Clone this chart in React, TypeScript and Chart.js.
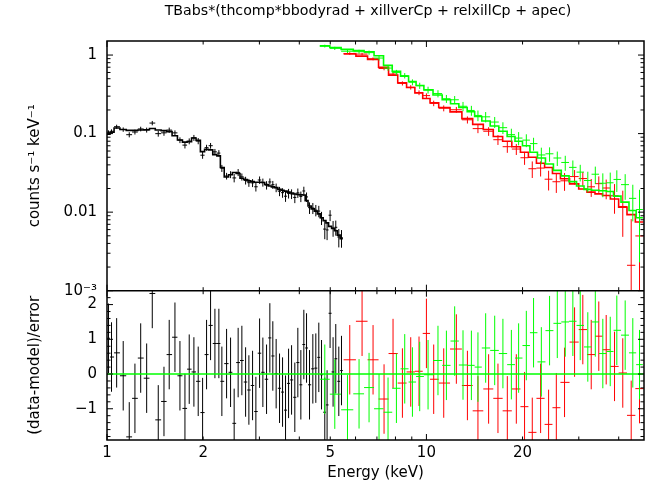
import React, { useEffect, useRef } from 'react';
import { Chart, registerables } from 'chart.js';

Chart.register(...registerables);

// ---------- text ----------
const plotTitle = 'TBabs*(thcomp*bbodyrad + xillverCp + relxillCp + apec)';
const xAxisTitle = 'Energy (keV)';
const topAxisTitle = 'counts s⁻¹ keV⁻¹';
const resAxisTitle = '(data-model)/error';

// ---------- ticks / ranges ----------
const xTickValues = [1, 2, 5, 10, 20];
const xTickLabels = ['1', '2', '5', '10', '20'];
const topTickValues = [0.001, 0.01, 0.1, 1];
const topTickLabels = ['10⁻³', '0.01', '0.1', '1'];
const resTickValues = [-1, 0, 1, 2];
const resTickLabels = ['−1', '0', '1', '2'];
const xRange = [1, 48];
const topRange = [0.001, 1.51];
const resRange = [-1.9, 2.4];

// ---------- black group (keV, counts/s/keV) ----------
const blackEnergy = [1.011, 1.033, 1.072, 1.124, 1.174, 1.223, 1.275, 1.331, 1.386, 1.447, 1.508, 1.566, 1.632, 1.692, 1.754, 1.809, 1.871, 1.930, 1.992, 2.050, 2.110, 2.177, 2.240, 2.289, 2.368, 2.437, 2.501, 2.574, 2.644, 2.716, 2.781, 2.856, 2.925, 3.004, 3.076, 3.159, 3.235, 3.305, 3.385, 3.469, 3.545, 3.622, 3.702, 3.783, 3.873, 3.958, 4.045, 4.133, 4.214, 4.306, 4.410, 4.506, 4.604, 4.695, 4.807, 4.887, 4.994, 5.103, 5.203, 5.318, 5.422];
const blackModel = [0.098, 0.104, 0.118, 0.113, 0.110, 0.110, 0.111, 0.112, 0.116, 0.111, 0.109, 0.106, 0.094, 0.083, 0.078, 0.079, 0.088, 0.082, 0.059, 0.063, 0.062, 0.054, 0.052, 0.037, 0.028, 0.030, 0.032, 0.031, 0.027, 0.026, 0.025, 0.0245, 0.024, 0.024, 0.0238, 0.0225, 0.0215, 0.021, 0.0205, 0.0195, 0.019, 0.0185, 0.018, 0.0175, 0.017, 0.0168, 0.0166, 0.0165, 0.014, 0.012, 0.011, 0.0103, 0.0095, 0.0085, 0.0078, 0.0073, 0.0066, 0.0062, 0.0058, 0.0051, 0.0046];
const blackRelErr = [0.06, 0.06, 0.062, 0.064, 0.066, 0.068, 0.07, 0.072, 0.075, 0.076, 0.078, 0.08, 0.082, 0.084, 0.086, 0.087, 0.088, 0.089, 0.09, 0.092, 0.094, 0.096, 0.098, 0.1, 0.1, 0.102, 0.104, 0.106, 0.108, 0.11, 0.11, 0.112, 0.114, 0.116, 0.118, 0.12, 0.122, 0.124, 0.126, 0.128, 0.13, 0.132, 0.135, 0.138, 0.14, 0.143, 0.146, 0.15, 0.155, 0.16, 0.165, 0.17, 0.18, 0.19, 0.2, 0.21, 0.22, 0.23, 0.24, 0.25, 0.26];
const blackResid = [1.03, 0.49, 0.61, -0.05, -1.81, -0.70, 0.46, -0.12, 2.32, -1.32, -0.79, 0.56, 1.06, -0.05, -0.99, 0.14, 0.06, -0.21, -1.11, 0.56, 1.40, 0.88, 0.88, -0.21, 0.30, 0.05, -1.42, 0.33, 0.39, -0.23, -0.46, -0.33, -1.08, 0.60, 0.05, -0.15, 1.04, 0.52, 0.01, -0.41, -0.52, -1.04, -0.27, -0.17, -0.67, 0.33, -0.31, 0.85, 0.75, -0.31, 0.15, 0.17, 0.48, -0.02, -1.10, -0.89, 1.75, 0.06, 0.44, -0.21, 0.10];

// ---------- red group ----------
const redEnergy = [5.755, 6.289, 6.807, 7.369, 7.862, 8.412, 8.931, 9.482, 10.0, 10.54, 11.33, 12.41, 13.44, 14.50, 15.66, 16.75, 17.92, 19.12, 20.29, 21.45, 22.78, 24.13, 25.51, 27.07, 29.10, 30.88, 32.81, 34.65, 36.55, 38.81, 41.19, 43.77, 46.47];
const redModel = [1.03, 0.97, 0.88, 0.70, 0.555, 0.443, 0.387, 0.33, 0.28, 0.246, 0.215, 0.189, 0.155, 0.131, 0.113, 0.092, 0.080, 0.068, 0.058, 0.050, 0.042, 0.037, 0.031, 0.0266, 0.0229, 0.0197, 0.018, 0.0171, 0.0163, 0.0147, 0.0116, 0.0093, 0.0075];
const redRelErr = [0.04, 0.04, 0.045, 0.05, 0.055, 0.06, 0.065, 0.07, 0.075, 0.08, 0.085, 0.09, 0.10, 0.11, 0.12, 0.13, 0.14, 0.15, 0.16, 0.17, 0.19, 0.2, 0.22, 0.24, 0.26, 0.28, 0.3, 0.32, 0.35, 0.45, 0.6, 0.65, 0.8];
const redResid = [0.41, 1.52, 0.41, -0.72, 0.59, -0.26, 0.06, 0.08, 1.17, -0.15, -0.26, 0.72, -0.33, -1.06, -0.43, -0.70, -1.06, -0.43, -0.94, -1.68, -0.70, -1.45, -0.97, -0.24, 0.92, 1.28, 0.56, 1.09, 0.70, 0.22, 0.03, -1.19, -0.42];

// ---------- green group ----------
const greenEnergy = [4.807, 5.166, 5.661, 6.154, 6.614, 7.107, 7.584, 8.056, 8.553, 9.041, 9.529, 10.12, 10.87, 11.55, 12.26, 13.02, 13.83, 14.50, 15.33, 16.36, 17.36, 18.45, 19.44, 20.55, 21.65, 22.90, 24.30, 25.69, 27.21, 28.74, 30.31, 32.01, 33.79, 35.67, 37.63, 39.46, 41.91, 44.28, 46.47];
const greenModel = [1.31, 1.25, 1.18, 1.14, 1.10, 0.98, 0.74, 0.62, 0.54, 0.46, 0.41, 0.36, 0.31, 0.27, 0.24, 0.215, 0.19, 0.165, 0.145, 0.125, 0.107, 0.092, 0.080, 0.070, 0.058, 0.049, 0.041, 0.034, 0.029, 0.0245, 0.0215, 0.0195, 0.019, 0.0187, 0.0183, 0.016, 0.0134, 0.0105, 0.0085];
const greenRelErr = [0.04, 0.045, 0.05, 0.055, 0.06, 0.065, 0.07, 0.075, 0.08, 0.085, 0.09, 0.1, 0.11, 0.12, 0.13, 0.14, 0.15, 0.16, 0.17, 0.18, 0.19, 0.2, 0.21, 0.22, 0.24, 0.26, 0.28, 0.3, 0.32, 0.34, 0.36, 0.38, 0.4, 0.42, 0.45, 0.5, 0.6, 0.7, 1.0];
const greenResid = [-0.15, -0.58, -1.03, -0.57, -0.39, -1.0, -1.10, -0.41, 0.15, -0.23, -0.07, -0.02, 0.39, 0.25, 0.95, 0.26, 0.25, 0.20, 0.75, 0.68, 0.59, 0.27, 0.46, 0.82, 1.19, 0.35, 1.25, 1.46, 1.50, 1.52, 1.40, 0.78, 1.50, 0.59, 0.65, 1.26, 1.12, 0.61, 0.27];

type Pt = { x: number; y: number | null };
const FLOOR = 1e-7;
const FONT = '"DejaVu Sans", Verdana, sans-serif';

function logEdges(E: number[]) {
  const n = E.length;
  const lo: number[] = [];
  const hi: number[] = [];
  for (let i = 0; i < n; i++) {
    lo.push(i > 0 ? Math.sqrt(E[i - 1] * E[i]) : E[0] * Math.sqrt(E[0] / E[1]));
    hi.push(i < n - 1 ? Math.sqrt(E[i] * E[i + 1]) : E[n - 1] * Math.sqrt(E[n - 1] / E[n - 2]));
  }
  return { lo, hi };
}

function groupDatasets(energy: number[], model: number[], relErr: number[], resid: number[], color: string, order: number) {
  const { lo, hi } = logEdges(energy);
  const step: Pt[] = [];
  const dataPts: Pt[] = [];
  const resPts: Pt[] = [];
  energy.forEach((e, i) => {
    const m = model[i];
    const err = m * relErr[i];
    const r = resid[i];
    const d = m + r * err;
    step.push({ x: lo[i], y: m }, { x: hi[i], y: m });
    dataPts.push(
      { x: lo[i], y: d }, { x: hi[i], y: d }, { x: e, y: null },
      { x: e, y: Math.max(d - err, FLOOR) }, { x: e, y: d + err }, { x: e, y: null }
    );
    resPts.push(
      { x: lo[i], y: r }, { x: hi[i], y: r }, { x: e, y: null },
      { x: e, y: r - 1 }, { x: e, y: r + 1 }, { x: e, y: null }
    );
  });
  const base = {
    type: 'line' as const,
    xAxisID: 'x',
    borderColor: color,
    backgroundColor: color,
    pointRadius: 0,
    pointHoverRadius: 0,
    pointHitRadius: 0,
    fill: false,
    spanGaps: false,
    tension: 0,
  };
  return [
    { ...base, data: step, yAxisID: 'yTop', borderWidth: 1.6, order: order },
    { ...base, data: dataPts, yAxisID: 'yTop', borderWidth: 1, order: order + 1 },
    { ...base, data: resPts, yAxisID: 'yRes', borderWidth: 1, order: order + 1 },
  ];
}

const panelClip = {
  id: 'panelClip',
  beforeDatasetDraw(chart: any, args: any) {
    const ys = chart.scales[args.meta.yAxisID];
    const xs = chart.scales.x;
    const ctx = chart.ctx;
    ctx.save();
    ctx.beginPath();
    ctx.rect(xs.left, ys.top, xs.right - xs.left, ys.bottom - ys.top);
    ctx.clip();
  },
  afterDatasetDraw(chart: any) {
    chart.ctx.restore();
  },
};

const framePlugin = {
  id: 'xspecFrame',
  afterDatasetsDraw(chart: any) {
    const ctx = chart.ctx;
    const xs = chart.scales.x;
    const yt = chart.scales.yTop;
    const yr = chart.scales.yRes;
    const L = xs.left;
    const R = xs.right;
    const line = (x1: number, y1: number, x2: number, y2: number) => {
      ctx.beginPath();
      ctx.moveTo(x1, y1);
      ctx.lineTo(x2, y2);
      ctx.stroke();
    };
    ctx.save();
    ctx.strokeStyle = '#000';
    ctx.lineWidth = 1;
    const xt: [number, boolean][] = [];
    for (const d of [1, 10]) for (let k = 1; k <= 9; k++) {
      const v = k * d;
      if (v >= xs.min && v <= xs.max) xt.push([v, k === 1]);
    }
    for (const ys of [yt, yr]) {
      for (const [v, major] of xt) {
        const px = xs.getPixelForValue(v);
        const len = major ? 6 : 3.5;
        line(px, ys.top, px, ys.top + len);
        line(px, ys.bottom, px, ys.bottom - len);
      }
    }
    for (const d of [0.001, 0.01, 0.1, 1]) for (let k = 1; k <= 9; k++) {
      const v = k * d;
      if (v < yt.min || v > yt.max) continue;
      const py = yt.getPixelForValue(v);
      const len = k === 1 ? 6 : 3.5;
      line(L, py, L + len, py);
      line(R, py, R - len, py);
    }
    for (let k = -9; k <= 12; k++) {
      const v = k * 0.2;
      if (v < yr.min || v > yr.max) continue;
      const py = yr.getPixelForValue(v);
      const len = k % 5 === 0 ? 6 : 3.5;
      line(L, py, L + len, py);
      line(R, py, R - len, py);
    }
    ctx.lineWidth = 1.5;
    ctx.strokeRect(L, yt.top, R - L, yr.bottom - yt.top);
    line(L, yt.bottom, R, yt.bottom);
    ctx.fillStyle = '#000';
    ctx.font = '14.2px ' + FONT;
    ctx.textAlign = 'center';
    ctx.textBaseline = 'alphabetic';
    ctx.fillText(plotTitle, 368, 14.5);
    ctx.restore();
  },
};

export default function App() {
  const ref = useRef<HTMLCanvasElement>(null);
  useEffect(() => {
    document.body.style.margin = '0';
    Chart.defaults.font.family = FONT;
    Chart.defaults.font.size = 15;
    Chart.defaults.color = '#000';
    const zeroLine = {
      type: 'line' as const,
      xAxisID: 'x',
      yAxisID: 'yRes',
      data: [{ x: xRange[0], y: 0 }, { x: xRange[1], y: 0 }],
      borderColor: '#00ff00',
      borderWidth: 1.4,
      pointRadius: 0,
      order: 0,
    };
    const datasets: any[] = [
      zeroLine,
      ...groupDatasets(greenEnergy, greenModel, greenRelErr, greenResid, '#00ff00', 1),
      ...groupDatasets(redEnergy, redModel, redRelErr, redResid, '#ff0000', 3),
      ...groupDatasets(blackEnergy, blackModel, blackRelErr, blackResid, '#000000', 5),
    ];
    const chart = new Chart(ref.current as HTMLCanvasElement, {
      type: 'line',
      data: { datasets },
      options: {
        responsive: false,
        animation: false,
        devicePixelRatio: 1,
        events: [],
        layout: { padding: { top: 41, right: 23, bottom: 0, left: 0 } },
        plugins: { legend: { display: false }, title: { display: false }, tooltip: { enabled: false } },
        scales: {
          x: {
            type: 'logarithmic',
            position: 'bottom',
            min: xRange[0],
            max: xRange[1],
            grid: { display: false, drawTicks: false },
            border: { display: false },
            afterBuildTicks: (s: any) => { s.ticks = xTickValues.map((v) => ({ value: v })); },
            afterFit: (s: any) => { s.height = 43; },
            ticks: {
              autoSkip: false,
              maxRotation: 0,
              padding: 4,
              font: { size: 15 },
              callback: (_v: any, i: number) => xTickLabels[i],
            },
            title: { display: true, text: xAxisTitle, font: { size: 15 }, padding: { top: 0, bottom: 1 } },
          },
          yRes: {
            type: 'linear',
            position: 'left',
            stack: 'panels',
            stackWeight: 149.3,
            weight: 0,
            min: resRange[0],
            max: resRange[1],
            grid: { display: false, drawTicks: false },
            border: { display: false },
            afterBuildTicks: (s: any) => { s.ticks = resTickValues.map((v) => ({ value: v })); },
            afterFit: (s: any) => { s.width = 107; },
            ticks: { autoSkip: false, padding: 10, font: { size: 15 }, callback: (_v: any, i: number) => resTickLabels[i] },
            title: { display: true, text: resAxisTitle, font: { size: 15 }, padding: { top: 26, bottom: 0 } },
          },
          yTop: {
            type: 'logarithmic',
            position: 'left',
            stack: 'panels',
            stackWeight: 249.7,
            weight: 1,
            min: topRange[0],
            max: topRange[1],
            grid: { display: false, drawTicks: false },
            border: { display: false },
            afterBuildTicks: (s: any) => { s.ticks = topTickValues.map((v) => ({ value: v })); },
            afterFit: (s: any) => { s.width = 107; },
            ticks: { autoSkip: false, padding: 10, font: { size: 15 }, callback: (_v: any, i: number) => topTickLabels[i] },
            title: { display: true, text: topAxisTitle, font: { size: 15 }, padding: { top: 26, bottom: 0 } },
          },
        },
      } as any,
      plugins: [panelClip, framePlugin],
    });
    return () => chart.destroy();
  }, []);
  return (
    <div style={{ position: 'absolute', left: 0, top: 0, width: 667, height: 483, background: '#fff' }}>
      <canvas ref={ref} width={667} height={483} style={{ display: 'block', width: 667, height: 483 }} />
    </div>
  );
}
